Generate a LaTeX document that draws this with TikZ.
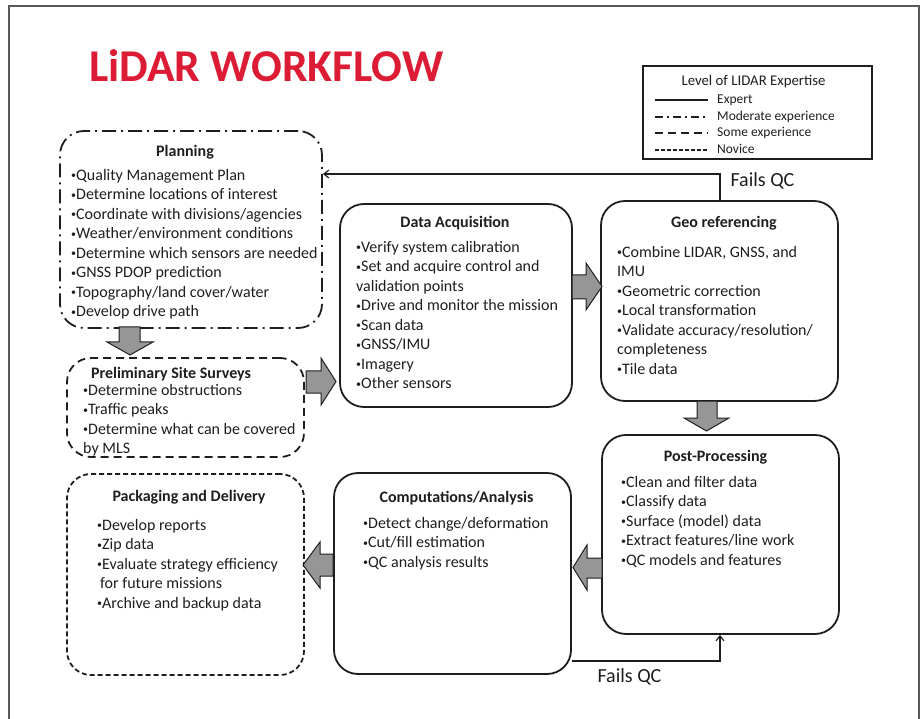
\documentclass[tikz,border=0pt]{standalone}
\usepackage{fontspec}
\setmainfont{Carlito}
\usetikzlibrary{arrows.meta,calc}
\definecolor{titlered}{RGB}{220,28,52}
\definecolor{arrowgray}{RGB}{150,150,150}
\definecolor{inkc}{RGB}{30,30,30}
\newcommand{\mystrut}{\rule{0pt}{12pt}}
\newcommand{\bl}{\raisebox{1.6pt}{\fontsize{10}{10}\selectfont•}}
\begin{document}
\begin{tikzpicture}[x=1pt,y=-1pt,
  box/.style={draw=inkc, line width=1.8pt, rounded corners=24pt, inner sep=0pt},
  moderate/.style={dash pattern=on 14pt off 5pt on 2pt off 5pt},
  some/.style={dash pattern=on 8pt off 5pt},
  novice/.style={dash pattern=on 5pt off 3pt},
  ttl/.style={anchor=base, inner sep=0pt, text=inkc, font=\fontsize{16}{19.5}\selectfont\bfseries},
  txt/.style={anchor=north west, align=left, inner sep=0pt, text=inkc, font=\fontsize{16}{19.5}\selectfont},
  barrow/.style={draw=inkc, line width=1pt, fill=arrowgray, line join=miter},
  qcline/.style={draw=inkc, line width=1.2pt, -{Straight Barb[length=5pt,width=8pt]}},
  qctext/.style={anchor=base, inner sep=0pt, text=inkc, font=\fontsize{20}{24}\selectfont},
  legline/.style={draw=inkc, line width=1.8pt},
  legtext/.style={anchor=base west, inner sep=0pt, text=inkc, font=\fontsize{13.5}{16}\selectfont}
]
\useasboundingbox (0,0) rectangle (924,719);
% outer frame
\draw[draw=black!65, line width=1.6pt] (9,719) -- (9,6) -- (919,6) -- (919,719);

% title
\node[anchor=base west, inner sep=0pt, text=titlered, font=\fontsize{45.5}{50}\selectfont\bfseries] (title) at (89,82) {LiDAR WORKFLOW};

% legend
\node[draw=inkc, line width=2pt, minimum width=229pt, minimum height=93pt, inner sep=0pt] (legend) at (757.5,112.5) {};
\node[anchor=base, inner sep=0pt, text=inkc, font=\fontsize{14.8}{17}\selectfont] (legtitle) at (753.5,86) {Level of LIDAR Expertise};
\coordinate (l1a) at (655,100); \coordinate (l1b) at (708,100);
\coordinate (l2a) at (655,117); \coordinate (l2b) at (708,117);
\coordinate (l3a) at (655,133); \coordinate (l3b) at (708,133);
\coordinate (l4a) at (655,150); \coordinate (l4b) at (708,150);
\draw[legline] (l1a) -- (l1b);
\draw[legline, dash pattern=on 8pt off 4pt on 2pt off 4pt] (l2a) -- (l2b);
\draw[legline, dash pattern=on 8pt off 5pt] (l3a) -- (l3b);
\draw[legline, dash pattern=on 4pt off 2pt] (l4a) -- (l4b);
\node[legtext] (e1) at (717,104) {Expert};
\node[legtext] (e2) at (717,121) {Moderate experience};
\node[legtext] (e3) at (717,137) {Some experience};
\node[legtext] (e4) at (717,154) {Novice};

% boxes
\node[box, moderate, minimum width=262pt, minimum height=197pt] (plan) at (191,229.5) {};
\node[box, minimum width=232pt, minimum height=203pt] (acq) at (456,305.5) {};
\node[box, minimum width=237pt, minimum height=200pt] (geo) at (719.5,301) {};
\node[box, some, minimum width=237pt, minimum height=99pt] (prelim) at (185.5,407.5) {};
\node[box, minimum width=237pt, minimum height=199pt] (post) at (720.5,534.5) {};
\node[box, minimum width=237pt, minimum height=201pt] (comp) at (452.5,573.5) {};
\node[box, novice, minimum width=237pt, minimum height=201pt] (pack) at (185.5,574.5) {};

% texts
\node[ttl] (planT) at (185,157) {Planning};
\node[txt] (planL) at (71,168) {\mystrut\bl Quality Management Plan\\\bl Determine locations of interest\\\bl Coordinate with divisions/agencies\\\bl Weather/environment conditions\\\bl Determine which sensors are needed\\\bl GNSS PDOP prediction\\\bl Topography/land cover/water\\\bl Develop drive path};

\node[ttl] (acqT) at (455,228) {Data Acquisition};
\node[txt] (acqL) at (356,240) {\mystrut\bl Verify system calibration\\\bl Set and acquire control and\\validation points\\\bl Drive and monitor the mission\\\bl Scan data\\\bl GNSS/IMU\\\bl Imagery\\\bl Other sensors};

\node[ttl] (geoT) at (724,228) {Geo referencing};
\node[txt] (geoL) at (617,245) {\mystrut\bl Combine LIDAR, GNSS, and\\IMU\\\bl Geometric correction\\\bl Local transformation\\\bl Validate accuracy/resolution/\\completeness\\\bl Tile data};

\node[ttl] (prelimT) at (171,378) {Preliminary Site Surveys};
\node[txt] (prelimL) at (83,383) {\mystrut\bl Determine obstructions\\\bl Traffic peaks\\\bl Determine what can be covered\\by MLS};

\node[ttl] (postT) at (715.5,461) {Post-Processing};
\node[txt] (postL) at (621,475) {\mystrut\bl Clean and filter data\\\bl Classify data\\\bl Surface (model) data\\\bl Extract features/line work\\\bl QC models and features};

\node[ttl] (compT) at (456.5,502) {Computations/Analysis};
\node[txt] (compL) at (363,516) {\mystrut\bl Detect change/deformation\\\bl Cut/fill estimation\\\bl QC analysis results};

\node[ttl] (packT) at (189,501) {Packaging and Delivery};
\node[txt] (packL) at (97,518) {\mystrut\bl Develop reports\\\bl Zip data\\\bl Evaluate strategy efficiency\\\hspace{3pt}for future missions\\\bl Archive and backup data};

% block arrows
\draw[barrow] (572,275) -- (586,275) -- (586,263) -- (602,286.5) -- (586,310) -- (586,299) -- (572,299) -- cycle;
\draw[barrow] (119,327) -- (119,342) -- (107,342) -- (130,355) -- (153,342) -- (140,342) -- (140,327) -- cycle;
\draw[barrow] (306,371) -- (321,371) -- (321,358) -- (336,381.5) -- (321,405) -- (321,393) -- (306,393) -- cycle;
\draw[barrow] (697,401) -- (697,418) -- (684,418) -- (706.5,431) -- (729,418) -- (717,418) -- (717,401) -- cycle;
\draw[barrow] (602,558) -- (587,558) -- (587,545) -- (573,567.5) -- (587,590) -- (587,578) -- (602,578) -- cycle;
\draw[barrow] (333,554) -- (320,554) -- (320,542) -- (303,565) -- (320,588) -- (320,576) -- (333,576) -- cycle;

% Fails QC loops
\coordinate (fq1) at (720,174);
\draw[qcline] (geo.north -| fq1) -- (fq1) -- (fq1 -| plan.east);
\node[qctext] (fqT1) at (762.5,187) {Fails QC};
\coordinate (fq2) at (720,661);
\draw[qcline] (fq2 -| comp.east) -- (fq2) -- (fq2 |- post.south);
\node[qctext] (fqT2) at (629.5,682) {Fails QC};
\end{tikzpicture}
\end{document}
